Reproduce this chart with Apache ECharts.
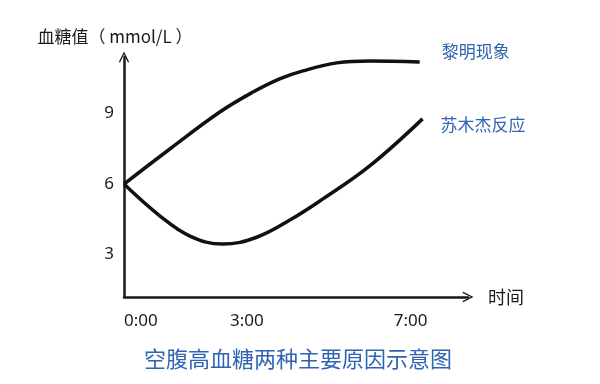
<!DOCTYPE html>
<html><head><meta charset="utf-8">
<script src="https://cdn.jsdelivr.net/npm/echarts@6/dist/echarts.min.js"></script>
<style>html,body{margin:0;padding:0;background:#fff}#c{width:600px;height:384px}</style>
</head><body><div id="c"></div>
<script>
const titleText = '空腹高血糖两种主要原因示意图';
const yAxisName = '血糖值（ mmol/L ）';
const xAxisName = '时间';
const xTickValues = [0, 3, 7];
const xTickLabels = ['0:00', '3:00', '7:00'];
const yTickValues = [3, 6, 9];
const dawnName = '黎明现象';
const dawnHours  = [0, 1.12, 2.34, 3.15, 3.80, 4.37, 5.20, 6.00, 7.22];
const dawnValues = [6, 7.49, 9.06, 9.91, 10.47, 10.81, 11.15, 11.23, 11.19];
const somoName = '苏木杰反应';
const somoHours  = [0, 0.88, 1.61, 2.41, 3.24, 4.05, 4.85, 6.00, 7.29];
const somoValues = [6, 4.64, 3.79, 3.45, 3.74, 4.47, 5.36, 6.77, 8.77];

const chev = 'path://M0,10 L5,0 L10,10 L8.8,10.6 L5,2.6 L1.2,10.6 Z';
const cjk = '"Noto Sans CJK SC", "Noto Sans", sans-serif';
const blue = '#3163b3';
const ink = '#1a1a1a';

const chart = echarts.init(document.getElementById('c'));
chart.setOption({
  animation: false,
  backgroundColor: '#fff',
  title: {
    text: titleText, left: 139, top: 343,
    textStyle: {fontFamily: cjk, fontSize: 22, fontWeight: 'normal', color: blue}
  },
  grid: {left: 124, right: 132, top: 57, bottom: 87},
  xAxis: {
    type: 'value', min: 0, max: 8.4,
    name: xAxisName, nameLocation: 'end', nameGap: 20,
    nameTextStyle: {fontFamily: cjk, fontSize: 18, color: ink},
    axisLine: {show: true, lineStyle: {color: ink, width: 2.5}, symbol: ['none', chev], symbolSize: [18, 11]},
    axisTick: {show: false},
    splitLine: {show: false},
    axisLabel: {
      customValues: xTickValues, margin: 16, alignMinLabel: 'left',
      fontFamily: '"Noto Sans", sans-serif', fontSize: 17, color: ink,
      formatter: v => xTickLabels[xTickValues.indexOf(v)]
    }
  },
  yAxis: {
    type: 'value', min: 1.2, max: 11.4,
    name: yAxisName, nameLocation: 'end', nameGap: 12,
    nameTextStyle: {fontFamily: cjk, fontSize: 17, color: ink, align: 'center', padding: [0, 18, 0, 0]},
    axisLine: {show: true, lineStyle: {color: ink, width: 2.5}, symbol: ['none', chev], symbolSize: [18, 11]},
    axisTick: {show: false},
    splitLine: {show: false},
    axisLabel: {customValues: yTickValues, margin: 10, fontFamily: '"Noto Sans", sans-serif', fontSize: 17, color: ink}
  },
  series: [
    {
      name: dawnName, type: 'line', smooth: 0.4, showSymbol: false,
      data: dawnHours.map((h, i) => [h, dawnValues[i]]),
      lineStyle: {color: '#111', width: 3.5},
      endLabel: {show: true, formatter: '{a}', offset: [14, -10], fontFamily: cjk, fontSize: 17, color: blue}
    },
    {
      name: somoName, type: 'line', smooth: 0.4, showSymbol: false,
      data: somoHours.map((h, i) => [h, somoValues[i]]),
      lineStyle: {color: '#111', width: 3.5},
      endLabel: {show: true, formatter: '{a}', offset: [10, 6], fontFamily: cjk, fontSize: 17, color: blue}
    }
  ]
});
</script></body></html>
